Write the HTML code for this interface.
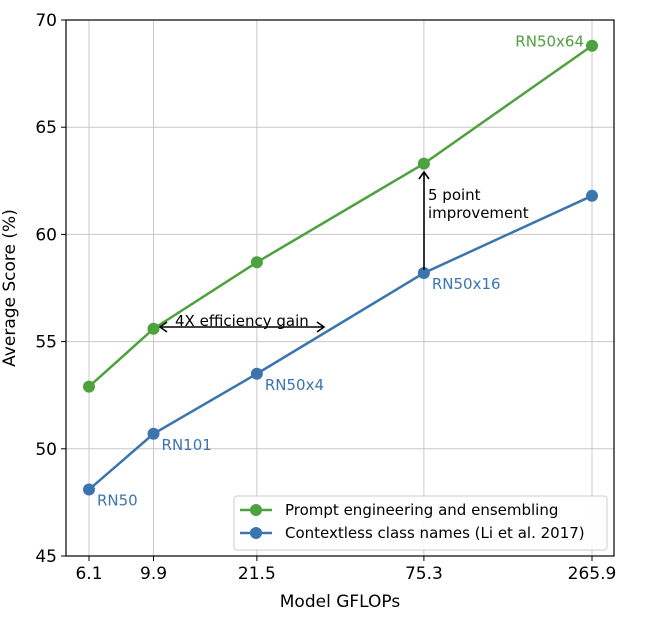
<!DOCTYPE html>
<html><head><meta charset="utf-8"><style>
body{margin:0;background:#fff}
svg text{font-family:"DejaVu Sans","Liberation Sans",sans-serif}
</style></head><body>
<svg id="chart" width="666" height="634" xmlns="http://www.w3.org/2000/svg">
<g id="grid"></g>
<g id="axes"></g>
<g id="series"></g>
<g>
<line x1="160" y1="327" x2="324" y2="327" stroke="#000" stroke-width="1.6"/>
<polyline points="167,322 160,327 167,332" fill="none" stroke="#000" stroke-width="1.6"/>
<polyline points="317,322 324,327 317,332" fill="none" stroke="#000" stroke-width="1.6"/>
<text x="175" y="326" font-size="15">4X efficiency gain</text>
</g>
<g>
<line x1="424" y1="172" x2="424" y2="270" stroke="#000" stroke-width="1.6"/>
<polyline points="419,179 424,172 429,179" fill="none" stroke="#000" stroke-width="1.6"/>
<text x="428" y="200" font-size="15">5 point</text>
<text x="428" y="218" font-size="15">improvement</text>
</g>
<g>
<rect x="234" y="496" width="373" height="54" rx="3" fill="#fff" fill-opacity="0.85" stroke="#ccc"/>
<line x1="240" y1="510" x2="272" y2="510" stroke="#4ea13f" stroke-width="2.5"/>
<circle cx="256" cy="510" r="6" fill="#4ea13f"/>
<text x="285" y="515" font-size="15">Prompt engineering and ensembling</text>
<line x1="240" y1="533" x2="272" y2="533" stroke="#3a75af" stroke-width="2.5"/>
<circle cx="256" cy="533" r="6" fill="#3a75af"/>
<text x="285" y="538" font-size="15">Contextless class names (Li et al. 2017)</text>
</g>
</svg>
<script>
const gflops=[6.1,9.9,21.5,75.3,265.9];
const tickLabels=["6.1","9.9","21.5","75.3","265.9"];
const promptScores=[52.9,55.6,58.7,63.3,68.8];
const contextlessScores=[48.1,50.7,53.5,58.2,61.8];
const modelNames=["RN50","RN101","RN50x4","RN50x16","RN50x64"];
const yTicks=[45,50,55,60,65,70];
const L=66,R=614,T=20,B=556;
const lx0=Math.log10(6.1),lx1=Math.log10(265.9);
const xs=v=>89+(Math.log10(v)-lx0)/(lx1-lx0)*503;
const ys=v=>B-(v-45)/25*(B-T);
const NS="http://www.w3.org/2000/svg";
function mk(tag,attrs,parent,txt){const e=document.createElementNS(NS,tag);for(const k in attrs)e.setAttribute(k,attrs[k]);if(txt!==undefined)e.textContent=txt;parent.appendChild(e);return e;}
const grid=document.getElementById('grid'),axes=document.getElementById('axes'),ser=document.getElementById('series');
gflops.forEach((g,i)=>{const x=xs(g);
const gl=mk('line',{x1:x,x2:x,y1:T,y2:B,stroke:'#c8c8c8','stroke-width':1},grid);


mk('line',{x1:x,x2:x,y1:B,y2:B+5,stroke:'#000'},axes);
const t=mk('text',{x:x,y:B+23,'font-size':17,'text-anchor':'middle'},axes,tickLabels[i]);

});
yTicks.forEach(v=>{const y=ys(v);
const gl=mk('line',{x1:L,x2:R,y1:y,y2:y,stroke:'#c8c8c8','stroke-width':1},grid);


mk('line',{x1:L-5,x2:L,y1:y,y2:y,stroke:'#000'},axes);
const t=mk('text',{x:L-9,y:y+6,'font-size':17,'text-anchor':'end'},axes,String(v));

});
mk('rect',{x:L,y:T,width:R-L,height:B-T,fill:'none',stroke:'#000','stroke-width':1.2},axes);
const xt=mk('text',{x:(L+R)/2,y:607,'font-size':17,'text-anchor':'middle'},axes,'Model GFLOPs');


const yt=mk('text',{x:0,y:0,'font-size':17,'text-anchor':'middle',transform:'translate(15,'+((T+B)/2)+') rotate(-90)'},axes,'Average Score (%)');


function draw(vals,col,name){
const pl=mk('polyline',{points:vals.map((v,i)=>xs(gflops[i])+','+ys(v)).join(' '),fill:'none',stroke:col,'stroke-width':2.5},ser);


vals.forEach((v,i)=>{const c=mk('circle',{cx:xs(gflops[i]),cy:ys(v),r:6,fill:col},ser);

});}
draw(promptScores,'#4ea13f','prompt');
draw(contextlessScores,'#3a75af','contextless');
modelNames.forEach((n,i)=>{let x,y,a='start',col='#3a75af';
if(i===4){x=xs(gflops[i])-8;y=ys(promptScores[i])+1;a='end';col='#4ea13f';}
else{x=xs(gflops[i])+8;y=ys(contextlessScores[i])+16;}
const t=mk('text',{x:x,y:y,'font-size':15,fill:col,'text-anchor':a},ser,n);

});
</script>
</body></html>
